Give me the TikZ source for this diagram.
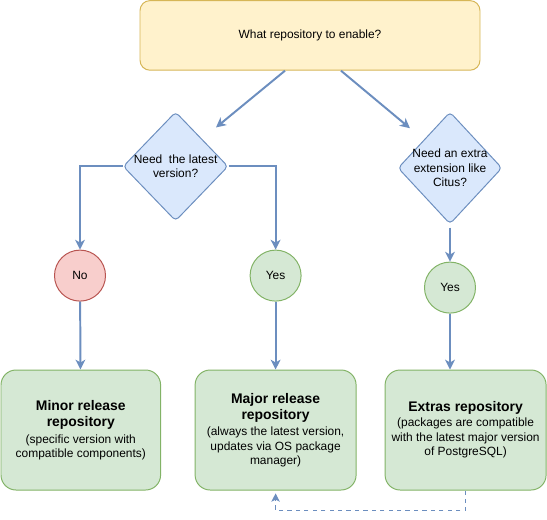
\documentclass[tikz,border=0pt]{standalone}
\usepackage{fontspec}
\setmainfont{Liberation Sans}
\usetikzlibrary{shapes.geometric,arrows.meta}

\definecolor{yellowfill}{HTML}{FFF2CC}
\definecolor{yellowline}{HTML}{D6B656}
\definecolor{bluefill}{HTML}{DAE8FC}
\definecolor{blueline}{HTML}{6C8EBF}
\definecolor{redfill}{HTML}{F8CECC}
\definecolor{redline}{HTML}{B85450}
\definecolor{greenfill}{HTML}{D5E8D4}
\definecolor{greenline}{HTML}{82B366}

\newcommand\headfont{\fontsize{9.9pt}{11.9pt}\selectfont\bfseries}

\begin{document}
\begin{tikzpicture}[
  every node/.style={font=\fontsize{8.5pt}{10.2pt}\selectfont},
  question/.style={draw=yellowline, fill=yellowfill, rounded corners=0.25cm,
    minimum width=8.5cm, minimum height=1.74cm, line width=0.7pt},
  decision/.style={diamond, draw=blueline, fill=bluefill, rounded corners=0.1cm,
    inner sep=0pt, line width=0.7pt},
  answerno/.style={circle, draw=redline, fill=redfill, minimum size=1.275cm,
    inner sep=0pt, line width=0.7pt},
  answeryes/.style={circle, draw=greenline, fill=greenfill, minimum size=1.275cm,
    inner sep=0pt, line width=0.7pt},
  repo/.style={draw=greenline, fill=greenfill, rounded corners=0.375cm,
    minimum width=4cm, minimum height=3cm, align=center, line width=0.7pt},
  flow/.style={draw=blueline, line width=1.4pt, -{Stealth[length=7pt,width=7pt,inset=2pt]}},
  link/.style={draw=blueline, dashed, line width=0.7pt, -{Stealth[length=6pt,width=6pt,inset=1.5pt]}}
]
  \useasboundingbox (0,0) rectangle (13.675cm,-12.975cm);

  % Question
  \node[question] (q) at (7.75cm, -0.885cm) {What repository to enable?};

  % Decisions
  \node[decision, minimum width=2.625cm, minimum height=2.725cm,
    label={[align=center]center:Need\ \ the latest\\version?}] (latest) at (4.39cm, -4.16cm) {};
  \node[decision, minimum width=2.6cm, minimum height=2.8cm,
    label={[align=center]center:Need an extra\\extension like\\Citus?}] (extra) at (11.25cm, -4.2cm) {};

  % Answers
  \node[answerno] (no) at (2.0cm, -6.89cm) {No};
  \node[answeryes] (yesa) at (6.89cm, -6.89cm) {Yes};
  \node[answeryes] (yesb) at (11.25cm, -7.19cm) {Yes};

  % Repositories
  \node[repo, minimum width=3.99cm] (minor) at (2.02cm, -10.75cm)
    {\headfont Minor release\\[1.7pt]\headfont repository\\[1.2pt](specific version with\\compatible components)};
  \node[repo, minimum width=4.025cm] (major) at (6.89cm, -10.75cm)
    {\headfont Major release\\[1.7pt]\headfont repository\\[1.2pt](always the latest version,\\updates via OS package\\manager)};
  \node[repo, minimum width=4.025cm] (extras) at (11.64cm, -10.75cm)
    {\headfont Extras repository\\[0.5pt](packages are compatible\\with the latest major version\\of PostgreSQL)};

  % Arrows
  \draw[flow, shorten >=0.45cm] ([xshift=-0.625cm]q.south) -- (latest.north east);
  \draw[flow, shorten >=0.45cm] ([xshift=0.775cm]q.south) -- (extra.north west);
  \draw[flow] (latest.west) -| (no);
  \draw[flow] (latest.east) -| (yesa);
  \draw[flow, shorten <=0.08cm] (extra) -- (yesb);
  \draw[flow] (no) -- (minor);
  \draw[flow] (yesa) -- (major);
  \draw[flow] (yesb) -- (yesb |- extras.north);
  \draw[link, shorten >=2pt] (extras.south) -- ++(0,-0.5cm) -| (major.south);
\end{tikzpicture}
\end{document}
